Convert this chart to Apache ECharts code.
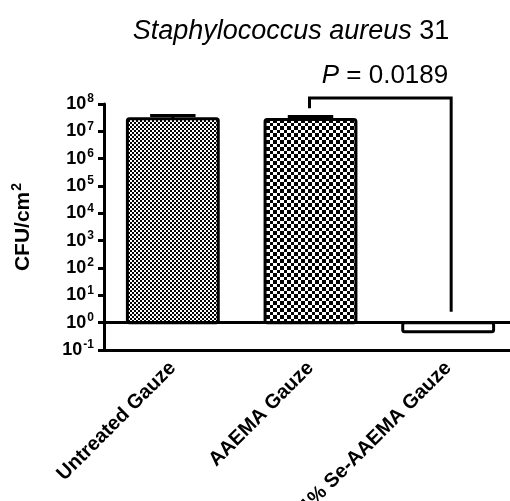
<!DOCTYPE html>
<html>
<head>
<meta charset="utf-8">
<script src="https://cdn.jsdelivr.net/npm/echarts@6/dist/echarts.min.js"></script>
<style>
html, body { margin: 0; padding: 0; background: #fff; }
#chart { width: 510px; height: 501px; }
</style>
</head>
<body>
<div id="chart"></div>
<script>
// data
var categories = ['Untreated Gauze', 'AAEMA Gauze', '1% Se-AAEMA Gauze'];
var meanCFU = [2.9e7, 2.7e7, 0.47];
var errUpper = [3.8e7, 3.5e7, null];
var pLabel = '0.0189';
// significance bracket between AAEMA and Se-AAEMA
var bracketCats = [1, 2];
var bracketTop = 1.66e8;
var bracketLegEnds = [7e7, 2.5];

var FONT = 'Liberation Sans, Arial, sans-serif';

function checker(a, b) {
    // a: black cell size, b: white cell size
    var n = a + b;
    var c = document.createElement('canvas');
    c.width = c.height = n;
    var g = c.getContext('2d');
    g.fillStyle = '#fff';
    g.fillRect(0, 0, n, n);
    g.fillStyle = '#000';
    g.fillRect(0, 0, a, a);
    g.fillRect(a, a, b, b);
    return c;
}
var fills = [
    { image: checker(2, 2), repeat: 'repeat' },
    { image: checker(4, 3), repeat: 'repeat' },
    '#fff'
];

function bandWidth(api) {
    return api.coord([1, 1])[0] - api.coord([0, 1])[0];
}

var chart = echarts.init(document.getElementById('chart'));
chart.setOption({
    backgroundColor: '#fff',
    animation: false,
    title: [{
        text: '{i|Staphylococcus aureus} 31',
        left: 286,
        top: 13,
        textAlign: 'center',
        textStyle: {
            fontFamily: FONT, fontSize: 27, fontWeight: 'normal', color: '#000',
            rich: { i: { fontFamily: FONT, fontSize: 27, fontStyle: 'italic', color: '#000' } }
        }
    }, {
        text: '{i|P} = ' + pLabel,
        left: 380,
        top: 58,
        textAlign: 'center',
        textStyle: {
            fontFamily: FONT, fontSize: 26, fontWeight: 'normal', color: '#000',
            rich: { i: { fontFamily: FONT, fontSize: 26, fontStyle: 'italic', color: '#000' } }
        }
    }],
    grid: { left: 104, top: 104, width: 413, height: 246, outerBoundsMode: 'none', containLabel: false },
    xAxis: {
        type: 'category',
        data: categories,
        axisLine: { lineStyle: { color: '#000', width: 3 } },
        axisTick: { alignWithLabel: true, length: 6, lineStyle: { color: '#000', width: 3 } },
        axisLabel: {
            rotate: 45, margin: 15, color: '#000',
            fontFamily: FONT, fontSize: 20, fontWeight: 'bold'
        }
    },
    yAxis: {
        type: 'log',
        logBase: 10,
        min: 0.1,
        max: 1e8,
        interval: 1,
        name: '{a|CFU/cm}{s|2}',
        nameLocation: 'middle',
        nameGap: 68,
        nameTextStyle: {
            fontFamily: FONT, fontSize: 21, fontWeight: 'bold', color: '#000',
            rich: {
                a: { fontFamily: FONT, fontSize: 21, fontWeight: 'bold', color: '#000' },
                s: { fontFamily: FONT, fontSize: 14, fontWeight: 'bold', color: '#000', padding: [0, 0, 12, 1] }
            }
        },
        axisLine: { show: true, lineStyle: { color: '#000', width: 3 } },
        axisTick: { show: true, length: 6, lineStyle: { color: '#000', width: 3 } },
        splitLine: { show: false },
        axisLabel: {
            margin: 10,
            formatter: function (v) {
                var e = Math.round(Math.log10(v));
                return '{b|10}{s|' + e + '}';
            },
            rich: {
                b: { fontFamily: FONT, fontSize: 18, fontWeight: 'bold', color: '#000' },
                s: { fontFamily: FONT, fontSize: 12, fontWeight: 'bold', color: '#000', padding: [0, 0, 10, 1] }
            }
        }
    },
    series: [{
        type: 'custom',
        name: 'bars',
        data: meanCFU.map(function (v, i) { return [i, v]; }),
        renderItem: function (params, api) {
            var i = api.value(0);
            var top = api.coord([i, api.value(1)]);
            var base = api.coord([i, 1]);
            var w = bandWidth(api) * 0.66;
            return {
                type: 'rect',
                shape: { x: top[0] - w / 2, y: Math.min(top[1], base[1]), width: w, height: Math.abs(base[1] - top[1]), r: 2 },
                style: { fill: fills[i], stroke: '#000', lineWidth: 3 }
            };
        },
        markLine: {
            silent: true,
            symbol: 'none',
            label: { show: false },
            lineStyle: { color: '#000', width: 3, type: 'solid' },
            data: [{ yAxis: 1 }]
        },
        z: 2
    }, {
        type: 'custom',
        name: 'error',
        data: meanCFU.map(function (v, i) { return [i, v, errUpper[i]]; }).filter(function (d) { return d[2] != null; }),
        renderItem: function (params, api) {
            var i = api.value(0);
            var p0 = api.coord([i, api.value(1)]);
            var p1 = api.coord([i, api.value(2)]);
            var cw = bandWidth(api) * 0.33;
            return {
                type: 'group',
                children: [{
                    type: 'line',
                    shape: { x1: p0[0], y1: p0[1], x2: p1[0], y2: p1[1] },
                    style: { stroke: '#000', lineWidth: 3 }
                }, {
                    type: 'line',
                    shape: { x1: p1[0] - cw / 2, y1: p1[1], x2: p1[0] + cw / 2, y2: p1[1] },
                    style: { stroke: '#000', lineWidth: 3 }
                }]
            };
        },
        z: 3
    }, {
        type: 'custom',
        name: 'bracket',
        data: [[bracketCats[0], bracketCats[1], bracketTop, bracketLegEnds[0], bracketLegEnds[1]]],
        renderItem: function (params, api) {
            var a = api.coord([api.value(0), api.value(3)]);
            var at = api.coord([api.value(0), api.value(2)]);
            var bt = api.coord([api.value(1), api.value(2)]);
            var b = api.coord([api.value(1), api.value(4)]);
            return {
                type: 'polyline',
                shape: { points: [[a[0] - 1, a[1]], [at[0] - 1, at[1]], [bt[0] + 3, bt[1]], [b[0] + 3, b[1]]] },
                style: { stroke: '#000', lineWidth: 3, fill: null, lineJoin: 'miter' }
            };
        },
        z: 4
    }]
});
</script>
</body>
</html>
